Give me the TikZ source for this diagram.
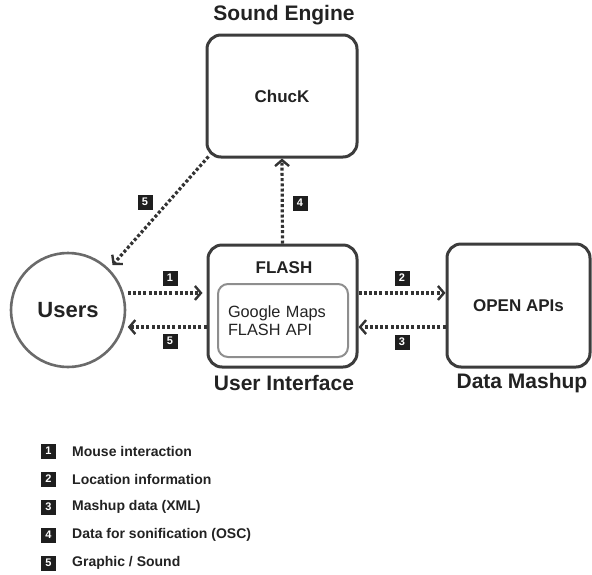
\documentclass[tikz,border=0pt]{standalone}
\usepackage{fontspec}
\setmainfont{Liberation Sans}
\usetikzlibrary{arrows.meta,calc}
\definecolor{boxline}{HTML}{3C3C3C}
\definecolor{circline}{HTML}{6A6A6A}
\definecolor{innerline}{HTML}{8E8E8E}
\definecolor{txt}{HTML}{222222}
\definecolor{dots}{HTML}{333333}
\definecolor{sqfill}{HTML}{1E1E1E}
\begin{document}
\begin{tikzpicture}[x=1pt,y=-1pt,
  box/.style={draw=boxline,line width=3pt,rounded corners=14pt,text=txt,font=\bfseries\fontsize{17}{20}\selectfont,inner sep=0pt},
  title/.style={text=txt,font=\bfseries\fontsize{21}{24}\selectfont,inner sep=0pt},
  flow/.style={draw=dots,line width=3.2pt,dash pattern=on 3pt off 2.2pt,
    -{Straight Barb[length=6pt,width=14pt,line width=2.4pt]}},
  lbl/.style={fill=sqfill,text=white,font=\bfseries\fontsize{11}{11}\selectfont,minimum size=15pt,inner sep=0pt},
  legtxt/.style={anchor=west,text=txt,font=\bfseries\fontsize{14}{16}\selectfont,inner sep=0pt}
]
\useasboundingbox (0,0) rectangle (592,574);

% titles
\node[title] (ttl-se) at (284,15) {Sound Engine};
\node[title] (ttl-ui) at (284,383) {User Interface};
\node[title] (ttl-dm) at (522,383) {Data Mashup};

% boxes
\node[box,minimum width=150pt,minimum height=122pt] (chuck) at (282,96) {ChucK};
\node[box,minimum width=149pt,minimum height=122pt] (flash) at (282.5,306) {};
\node[text=txt,font=\bfseries\fontsize{17}{20}\selectfont,inner sep=0pt] (flashlbl) at (284,268) {FLASH};
\node[draw=innerline,line width=2pt,rounded corners=10pt,minimum width=130pt,minimum height=73pt,
      text width=110pt,align=left,inner sep=10pt,text=txt,font=\fontsize{16.3}{18.5}\selectfont] (gmaps) at (283,320.5) {Google Maps\\FLASH API};
\node[box,minimum width=143pt,minimum height=123pt] (open) at (518.5,305.5) {OPEN APIs};

% users
\node[draw=circline,line width=2.6pt,circle,minimum size=114pt,inner sep=0pt,text=txt,
      font=\bfseries\fontsize{22}{24}\selectfont] (users) at (68,310) {Users};

% connectors
\draw[flow,shorten <=4pt,shorten >=4pt] (users.17) -- (flash.west |- users.17);
\draw[flow,shorten >=4pt] (flash.west |- users.-17) -- (users.-17);
\draw[flow] (flash.east |- users.17) -- (open.west |- users.17);
\draw[flow] (open.west |- users.-17) -- (flash.east |- users.-17);
\draw[flow] (flash.north) -- (chuck.south);
\coordinate (cornerA) at ($(chuck.south west)+(3,-2)$);
\draw[flow,shorten >=5pt] (cornerA) -- (users.45);

% labels
\node[lbl] (l1) at (170,278) {1};
\node[lbl] (l5b) at (170,341) {5};
\node[lbl] (l2) at (402,278) {2};
\node[lbl] (l3) at (402,342) {3};
\node[lbl] (l4) at (300,203) {4};
\node[lbl] (l5t) at (145,202) {5};

% legend
\node[lbl] (k1) at (48.5,451) {1};
\node[lbl] (k2) at (48.5,479) {2};
\node[lbl] (k3) at (48.5,507) {3};
\node[lbl] (k4) at (48.5,535) {4};
\node[lbl] (k5) at (48.5,563) {5};
\node[legtxt] (t1) at (72,451) {Mouse interaction};
\node[legtxt] (t2) at (72,479) {Location information};
\node[legtxt] (t3) at (72,507) {Mashup data (XML)};
\node[legtxt] (t4) at (72,535) {Data for sonification (OSC)};
\node[legtxt] (t5) at (72,563) {Graphic / Sound};
\end{tikzpicture}
\end{document}
